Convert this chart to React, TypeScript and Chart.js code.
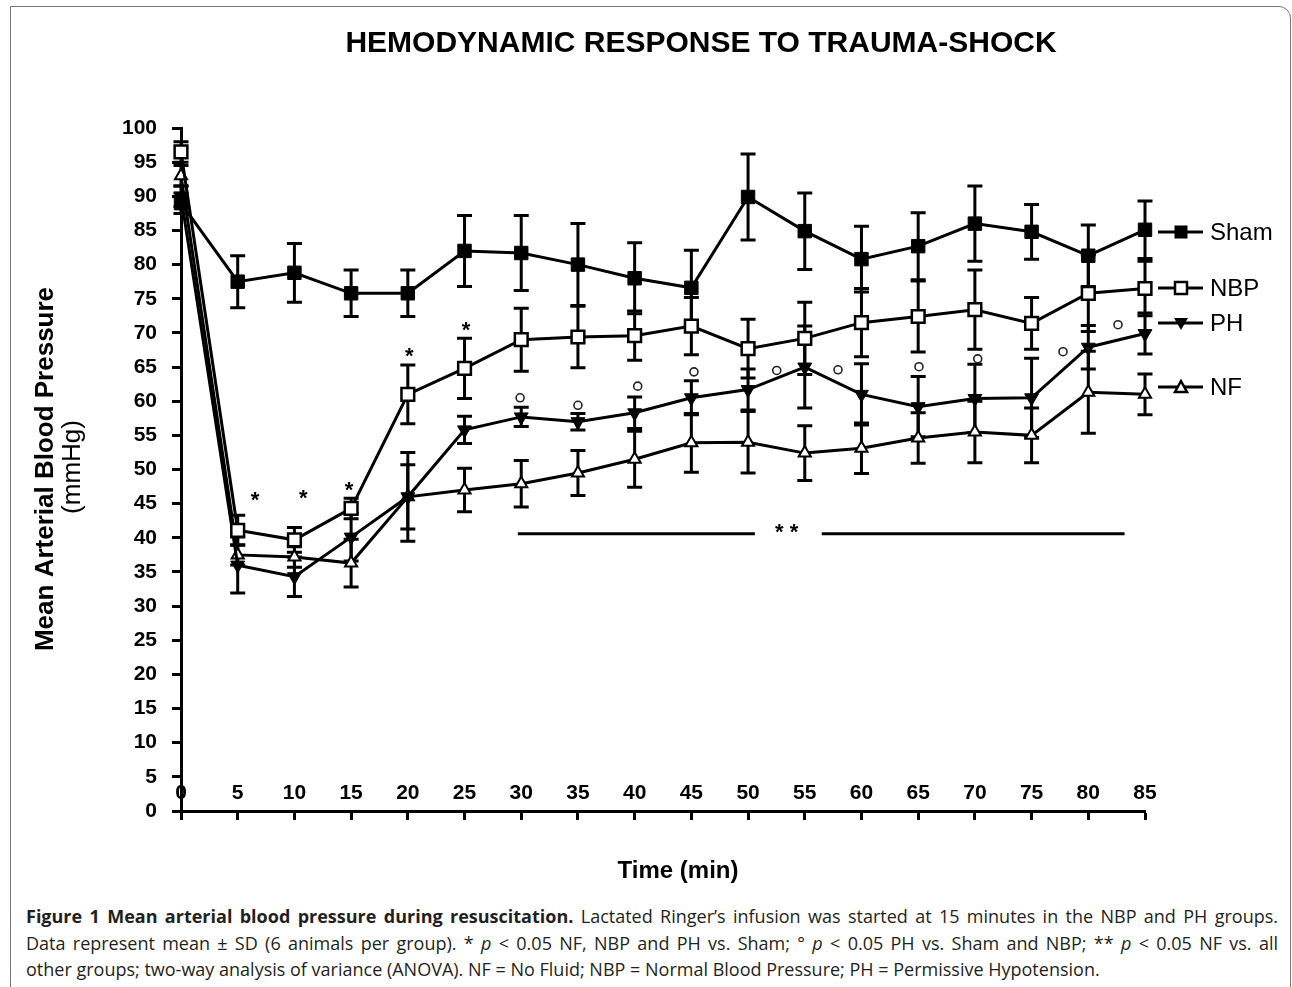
import React, { useEffect, useRef } from "react";
import { Chart, registerables } from "chart.js";
Chart.register(...registerables);

const times = [0, 5, 10, 15, 20, 25, 30, 35, 40, 45, 50, 55, 60, 65, 70, 75, 80, 85];
const xTickLabels = ["0", "5", "10", "15", "20", "25", "30", "35", "40", "45", "50", "55", "60", "65", "70", "75", "80", "85"];

const shamMean = [89, 77.5, 78.8, 75.8, 75.8, 82, 81.7, 80, 78, 76.6, 89.9, 84.9, 80.8, 82.7, 86, 84.8, 81.3, 85.1];
const shamSD = [1.5, 3.8, 4.3, 3.4, 3.4, 5.2, 5.5, 6, 5.2, 5.5, 6.3, 5.6, 4.8, 4.9, 5.5, 4, 4.5, 4.2];
const nbpMean = [96.5, 41.1, 39.7, 44.3, 61, 64.8, 69, 69.4, 69.6, 71, 67.7, 69.2, 71.5, 72.4, 73.4, 71.4, 75.8, 76.5];
const nbpSD = [1.5, 2.2, 1.8, 1.5, 4.3, 4.4, 4.6, 4.5, 3.6, 4.2, 4.3, 5.3, 5, 5.2, 5.8, 3.8, 5.6, 4];
const phMean = [90, 36, 34.3, 40.1, 46, 55.8, 57.7, 57, 58.3, 60.5, 61.7, 65, 61, 59.2, 60.4, 60.5, 67.9, 69.9];
const phSD = [1.5, 4.1, 2.9, 3.5, 6.5, 2, 1.4, 1.2, 2.3, 2.5, 3, 6, 4.5, 4.4, 5, 5.8, 3.2, 3];
const nfMean = [93, 37.5, 37.2, 36.3, 46, 47, 47.9, 49.5, 51.5, 53.9, 54, 52.4, 53.1, 54.6, 55.5, 55, 61.3, 61];
const nfSD = [1.5, 1.5, 1.5, 3.5, 4.7, 3.2, 3.4, 3.3, 4.1, 4.3, 4.5, 4, 3.7, 3.7, 4.5, 4, 6, 3];

// significance markers (data coordinates)
const starX = [6.53, 10.78, 14.81, 20.13, 25.13];
const starY = [46.0, 46.3, 47.5, 67.0, 70.9];
const circleX = [29.9, 35.0, 40.27, 45.23, 52.53, 57.93, 65.07, 70.25, 77.77, 82.62];
const circleY = [60.5, 59.4, 62.2, 64.3, 64.5, 64.6, 65.05, 66.2, 67.25, 71.2];
const nfBarSegments = [[29.7, 50.6], [56.5, 83.2]];
const nfBarY = 40.6;
const nfStarX = 53.4;
const nfStarY = 41.3;

const seriesNames = ["Sham", "NBP", "PH", "NF"];

const FONT = '"Liberation Sans", Arial, Helvetica, sans-serif';

function drawMarker(ctx: CanvasRenderingContext2D, kind: string, cx: number, cy: number) {
  ctx.save();
  ctx.lineWidth = 2.5;
  ctx.strokeStyle = "#000";
  if (kind === "Sham") {
    ctx.fillStyle = "#000";
    ctx.fillRect(cx - 6.5, cy - 6.5, 13, 13);
  } else if (kind === "NBP") {
    ctx.fillStyle = "#fff";
    ctx.fillRect(cx - 6, cy - 6, 12, 12);
    ctx.strokeRect(cx - 6, cy - 6, 12, 12);
  } else if (kind === "PH") {
    ctx.fillStyle = "#000";
    ctx.beginPath();
    ctx.moveTo(cx - 7, cy - 5);
    ctx.lineTo(cx + 7, cy - 5);
    ctx.lineTo(cx, cy + 7);
    ctx.closePath();
    ctx.fill();
  } else {
    ctx.fillStyle = "#fff";
    ctx.beginPath();
    ctx.moveTo(cx - 6, cy + 5);
    ctx.lineTo(cx + 6, cy + 5);
    ctx.lineTo(cx, cy - 6);
    ctx.closePath();
    ctx.fill();
    ctx.stroke();
  }
  ctx.restore();
}

const overlayPlugin = {
  id: "overlay",
  beforeDatasetsDraw(chart: any) {
    const { ctx } = chart;
    const x = chart.scales.x;
    const y = chart.scales.y;
    const groups: [number[], number[]][] = [
      [shamMean, shamSD],
      [nbpMean, nbpSD],
      [phMean, phSD],
      [nfMean, nfSD],
    ];
    ctx.save();
    ctx.strokeStyle = "#000";
    ctx.lineWidth = 3;
    groups.forEach(([m, sd]) => {
      times.forEach((t, i) => {
        const px = x.getPixelForValue(t);
        const top = y.getPixelForValue(m[i] + sd[i]);
        const bot = y.getPixelForValue(m[i] - sd[i]);
        ctx.beginPath();
        ctx.moveTo(px, top);
        ctx.lineTo(px, bot);
        ctx.moveTo(px - 7.5, top);
        ctx.lineTo(px + 7.5, top);
        ctx.moveTo(px - 7.5, bot);
        ctx.lineTo(px + 7.5, bot);
        ctx.stroke();
      });
    });
    ctx.restore();
  },
  afterDraw(chart: any) {
    const { ctx, chartArea } = chart;
    const x = chart.scales.x;
    const y = chart.scales.y;
    ctx.save();
    ctx.fillStyle = "#000";
    ctx.textAlign = "center";
    ctx.textBaseline = "middle";

    // Title
    ctx.font = `bold 30px ${FONT}`;
    ctx.fillText("HEMODYNAMIC RESPONSE TO TRAUMA-SHOCK", 701, 44);

    // x tick labels (above the axis line)
    ctx.font = `bold 21px ${FONT}`;
    times.forEach((t, i) => {
      ctx.fillText(xTickLabels[i], x.getPixelForValue(t), chartArea.bottom - 18);
    });

    // x title
    ctx.font = `bold 24px ${FONT}`;
    ctx.fillText("Time (min)", 678, 871);

    // y title
    ctx.save();
    ctx.translate(46, 469);
    ctx.rotate(-Math.PI / 2);
    ctx.font = `bold 26px ${FONT}`;
    ctx.fillText("Mean Arterial Blood Pressure", 0, 0);
    ctx.restore();
    ctx.save();
    ctx.translate(73, 467);
    ctx.rotate(-Math.PI / 2);
    ctx.font = `26px ${FONT}`;
    ctx.fillText("(mmHg)", 0, 0);
    ctx.restore();

    // stars
    ctx.font = `bold 22px ${FONT}`;
    starX.forEach((sx, i) => {
      ctx.fillText("*", x.getPixelForValue(sx), y.getPixelForValue(starY[i]) + 4);
    });
    // circles
    ctx.lineWidth = 1.6;
    ctx.strokeStyle = "#222";
    circleX.forEach((cx, i) => {
      ctx.beginPath();
      ctx.arc(x.getPixelForValue(cx), y.getPixelForValue(circleY[i]), 4, 0, Math.PI * 2);
      ctx.stroke();
    });
    // NF vs all groups bar
    ctx.lineWidth = 3;
    ctx.strokeStyle = "#000";
    nfBarSegments.forEach(([a, b]) => {
      const py = y.getPixelForValue(nfBarY);
      ctx.beginPath();
      ctx.moveTo(x.getPixelForValue(a), py);
      ctx.lineTo(x.getPixelForValue(b), py);
      ctx.stroke();
    });
    ctx.font = `bold 22px ${FONT}`;
    ctx.fillText("* *", x.getPixelForValue(nfStarX), y.getPixelForValue(nfStarY) + 4);

    // legend
    const legendY = [232, 288, 323, 387];
    ctx.textAlign = "left";
    ctx.font = `24px ${FONT}`;
    seriesNames.forEach((name, i) => {
      const ly = legendY[i];
      ctx.lineWidth = 3;
      ctx.beginPath();
      ctx.moveTo(chartArea.right + 13, ly);
      ctx.lineTo(chartArea.right + 58, ly);
      ctx.stroke();
      drawMarker(ctx, name, chartArea.right + 36, ly);
      ctx.fillStyle = "#000";
      ctx.fillText(name, chartArea.right + 65, ly + 1);
    });
    ctx.restore();
  },
};

export default function App() {
  const ref = useRef<HTMLCanvasElement | null>(null);
  useEffect(() => {
    if (!ref.current) return;
    const mk = (vals: number[]) => times.map((t, i) => ({ x: t, y: vals[i] }));
    const common = {
      borderColor: "#000",
      borderWidth: 3,
      tension: 0,
      clip: false as any,
      pointBorderColor: "#000",
    };
    const chart = new Chart(ref.current, {
      type: "line",
      data: {
        datasets: [
          { ...common, label: "Sham", data: mk(shamMean), pointStyle: "rect", pointRadius: 9.5, pointBackgroundColor: "#000", pointBorderWidth: 1 },
          { ...common, label: "NBP", data: mk(nbpMean), pointStyle: "rect", pointRadius: 9, pointBackgroundColor: "#fff", pointBorderWidth: 2.5 },
          { ...common, label: "PH", data: mk(phMean), pointStyle: "triangle", pointRotation: 180, pointRadius: 8, pointBackgroundColor: "#000", pointBorderWidth: 1 },
          { ...common, label: "NF", data: mk(nfMean), pointStyle: "triangle", pointRadius: 7, pointBackgroundColor: "#fff", pointBorderWidth: 2 },
        ],
      },
      options: {
        responsive: false,
        animation: false,
        devicePixelRatio: 1,
        layout: { padding: { left: 0, right: 147, top: 128, bottom: 0 } },
        plugins: { legend: { display: false }, title: { display: false }, tooltip: { enabled: false } },
        scales: {
          x: {
            type: "linear",
            min: 0,
            max: 85,
            afterFit: (s: any) => { s.height = 79; },
            ticks: { stepSize: 5, display: false },
            grid: { display: true, drawOnChartArea: false, drawTicks: true, tickLength: 9, tickWidth: 3, tickColor: "#000", color: "#000" },
            border: { display: true, color: "#000", width: 3 },
          },
          y: {
            type: "linear",
            min: 0,
            max: 100,
            afterFit: (s: any) => { s.width = 181; },
            ticks: { stepSize: 5, color: "#000", padding: 15, font: { family: FONT, size: 21, weight: "bold" } },
            grid: { display: true, drawOnChartArea: false, drawTicks: true, tickLength: 9, tickWidth: 3, tickColor: "#000", color: "#000" },
            border: { display: true, color: "#000", width: 3 },
          },
        },
      } as any,
      plugins: [overlayPlugin],
    });
    return () => chart.destroy();
  }, []);

  const capStyle: React.CSSProperties = {
    textAlign: "justify",
    textAlignLast: "justify" as any,
    whiteSpace: "nowrap",
    height: 26.5,
    lineHeight: "26.5px",
  };

  return (
    <div style={{ position: "absolute", left: 0, top: 0, width: 1292, height: 987, overflow: "hidden", background: "#fff" }}>
      <div
        style={{
          position: "absolute",
          left: 10,
          top: 6,
          width: 1281,
          height: 1000,
          border: "1px solid #777",
          borderTopRightRadius: 12,
          boxSizing: "border-box",
        }}
      />
      <canvas ref={ref} width={1292} height={890} style={{ position: "absolute", left: 0, top: 0, width: 1292, height: 890 }} />
      <div
        style={{
          position: "absolute",
          left: 26,
          top: 903,
          width: 1252,
          fontFamily: '"Open Sans", sans-serif',
          fontSize: 18,
          color: "#231f20",
        }}
      >
        <div style={capStyle}>
          <b>Figure 1 Mean arterial blood pressure during resuscitation.</b> Lactated Ringer’s infusion was started at 15 minutes in the NBP and PH groups.
        </div>
        <div style={capStyle}>
          Data represent mean ± SD (6 animals per group). * <i>p</i> &lt; 0.05 NF, NBP and PH vs. Sham; ° <i>p</i> &lt; 0.05 PH vs. Sham and NBP; ** <i>p</i> &lt; 0.05 NF vs. all
        </div>
        <div style={{ lineHeight: "26.5px", whiteSpace: "nowrap" }}>
          other groups; two-way analysis of variance (ANOVA). NF = No Fluid; NBP = Normal Blood Pressure; PH = Permissive Hypotension.
        </div>
      </div>
    </div>
  );
}
